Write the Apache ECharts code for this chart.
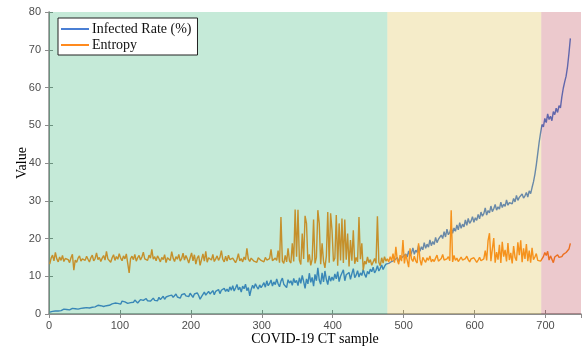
<!DOCTYPE html>
<html>
<head>
<meta charset="utf-8">
<script src="https://cdn.jsdelivr.net/npm/echarts@6/dist/echarts.min.js"></script>
<style>
  html, body { margin: 0; padding: 0; background: #fff; }
  #chart { width: 583px; height: 348px; }
</style>
</head>
<body>
<div id="chart"></div>
<script>
// sample numbers run 1, 3, 5 ... (every second CT sample)
const firstSample = 1;
const sampleStep = 2;

const infectedRate = [
  0.5,0.6,0.7,0.6,0.8,0.9,0.8,1.0,0.9,1.1,1.3,1.0,1.2,1.4,1.1,1.3,1.5,1.9,1.4,1.6,1.3,1.7,1.5,1.8,1.6,
  1.9,1.7,2.0,1.6,2.1,1.8,2.2,1.9,2.0,2.3,1.8,2.2,2.4,2.0,2.5,2.2,2.6,2.3,2.1,2.7,2.4,2.9,2.5,2.8,3.1,
  2.6,3.4,2.9,3.2,3.6,2.8,3.3,3.0,3.5,3.1,3.7,3.2,2.9,3.4,3.8,3.3,3.6,3.1,4.1,3.5,3.9,3.4,3.7,4.2,3.6,
  4.0,3.5,4.4,3.8,4.2,4.7,3.9,4.5,4.1,4.8,4.3,5.0,4.4,4.7,5.3,4.5,4.9,4.2,5.1,4.6,5.4,4.8,5.2,4.6,5.5,
  5.0,4.4,5.3,4.8,5.6,4.9,3.9,4.6,5.2,5.8,5.0,5.5,6.0,5.3,5.7,6.2,5.1,6.0,5.6,6.5,5.4,6.3,5.8,6.8,6.0,
  6.6,5.9,7.2,6.3,7.5,6.1,6.9,7.8,6.4,7.1,5.8,7.4,6.7,7.9,6.2,7.0,4.8,6.5,7.6,6.8,8.0,7.2,6.6,7.7,7.0,
  7.6,8.3,7.1,8.8,7.5,8.1,9.0,7.4,8.5,7.8,9.3,8.0,7.2,8.7,9.5,7.9,8.4,7.0,9.1,8.2,8.8,7.6,9.4,8.3,8.9,
  7.5,9.6,8.1,10.2,8.6,6.8,9.3,8.0,10.8,8.4,9.7,7.4,10.5,8.8,12.2,9.0,7.9,10.9,8.5,11.4,9.2,7.8,10.1,8.7,9.8,
  8.9,10.6,9.3,11.2,8.6,10.0,9.5,11.7,8.8,10.4,9.9,11.0,9.2,10.7,12.0,9.6,10.3,11.5,9.8,10.9,10.2,11.8,10.5,9.7,11.3,
  10.6,11.9,11.2,12.4,10.9,11.6,12.8,11.4,12.1,13.0,11.8,12.6,13.2,12.9,
  13.4,13.1,13.9,13.5,14.2,13.7,15.0,13.9,14.6,14.3,15.2,
  14.8,15.9,15.1,16.7,15.4,16.2,17.5,15.8,16.9,16.3,18.2,16.6,17.8,17.0,18.9,17.4,18.5,17.7,19.6,18.1,19.2,18.4,20.3,18.9,19.8,
  19.3,20.9,20.0,21.8,20.4,22.5,21.0,21.6,23.0,21.4,22.8,21.9,23.6,22.3,24.2,22.7,23.8,23.1,24.9,23.5,25.3,24.0,24.6,25.8,24.3,
  25.5,24.8,26.4,25.2,27.0,25.9,26.6,28.1,26.2,27.4,26.8,28.6,27.1,27.9,29.0,27.5,28.4,27.8,29.6,28.2,29.1,28.5,30.2,28.8,29.5,
  29.9,29.2,30.6,29.7,31.4,30.1,30.9,30.4,31.8,30.7,31.3,32.2,31.0,32.6,31.9,
  33.5,35.0,37.0,39.5,42.5,45.5,48.0,50.2,
  49.6,51.8,50.7,53.0,51.5,52.4,51.2,53.6,52.8,54.5,53.4,55.2,54.6,
  57.5,59.8,61.5,63.0,65.5,69.0,73.0
];

const entropy = [
  13.2,14.8,15.6,14.1,16.3,14.6,13.8,15.1,14.2,15.5,13.9,14.7,15.2,14.4,13.6,14.9,15.8,11.6,14.3,13.7,14.8,15.4,14.0,14.6,15.0,
  14.2,15.3,14.5,13.8,14.9,15.6,14.1,14.7,16.2,14.4,15.0,13.9,14.8,15.5,14.3,16.6,14.6,15.1,13.7,14.9,15.7,14.2,15.2,14.5,16.0,
  14.8,14.1,15.4,14.6,15.9,13.4,10.9,14.7,15.3,14.4,15.8,14.0,14.9,15.5,14.3,15.1,16.4,14.6,15.0,14.2,15.6,14.8,17.1,14.5,15.2,
  14.1,15.4,14.7,13.8,15.0,14.4,15.7,13.6,14.9,15.3,14.2,16.5,14.8,13.9,15.2,14.5,15.8,14.0,14.7,16.1,14.3,15.5,14.6,13.5,14.9,
  16.2,14.1,15.7,13.2,14.8,15.5,12.9,14.4,15.9,14.0,16.6,13.7,14.9,15.2,14.3,15.8,13.9,14.6,15.4,14.2,15.0,16.8,14.5,13.8,15.3,
  14.0,15.6,14.4,13.9,14.8,15.2,13.6,14.5,16.0,14.1,14.7,13.8,15.1,14.3,17.4,14.6,13.9,14.8,15.3,14.0,14.5,13.7,14.9,15.4,14.2,
  14.6,13.8,15.0,14.3,13.9,14.7,17.1,14.1,13.6,14.8,
  14.2,16.8,13.6,25.7,14.0,13.4,15.5,13.8,17.4,14.1,13.5,18.7,13.9,27.7,15.2,27.6,14.3,13.1,21.3,14.6,
  26.0,24.0,13.7,15.8,12.9,14.5,25.0,13.4,15.0,27.5,24.0,13.2,18.7,14.0,12.2,15.3,27.0,13.6,26.7,22.2,
  13.9,14.8,26.2,12.8,24.0,14.2,25.3,13.5,25.0,14.4,21.3,12.6,19.6,14.1,22.2,13.3,15.0,13.8,25.7,14.5,
  18.7,11.6,14.0,13.2,15.1,13.6,14.4,12.9,13.8,14.7,13.4,25.9,13.7,12.8,14.9,13.5,15.2,14.0,
  14.6,13.8,15.2,14.1,16.0,13.6,17.8,14.3,13.2,15.6,14.0,19.6,13.4,15.8,14.2,12.4,17.4,14.6,13.9,15.3,
  14.1,13.5,18.7,14.4,12.9,15.0,14.3,13.7,14.9,14.2,15.4,13.8,14.5,13.9,14.8,15.6,14.0,13.5,14.7,15.8,
  14.3,13.9,14.6,15.2,14.1,27.5,13.8,15.5,14.2,14.8,13.9,14.5,15.1,14.3,14.0,14.7,15.3,14.4,13.8,14.6,
  14.2,14.9,14.5,13.7,14.3,15.0,14.1,13.9,14.6,16.8,14.2,19.5,21.4,14.0,17.2,20.1,13.6,16.4,14.4,18.3,
  13.5,19.1,15.2,17.0,13.9,18.8,14.3,16.2,13.4,18.0,15.0,14.1,19.0,15.6,19.5,13.7,17.4,14.6,18.5,14.0,
  16.8,13.6,17.5,14.4,15.1,16.0,14.2,13.8,14.0,
  14.1,15.2,16.3,15.5,16.6,14.3,15.4,15.8,13.6,15.1,14.6,15.7,15.0,15.4,15.2,15.8,16.0,16.3,16.5,17.2,18.7
];

// shaded bands over the plot: [from, to]
const bandEdges = [[0, 477], [477, 694], [694, 750]];
const bandColors = ['rgb(4,165,87)', 'rgb(211,172,20)', 'rgb(172,20,37)'];

const xTicks = { min: 0, max: 750, interval: 100 };
const yTicks = { min: 0, max: 80, interval: 10 };

const toPairs = (values) => values.map((v, i) => [firstSample + i * sampleStep, v]);

const chart = echarts.init(document.getElementById('chart'));

const axisGray = '#8c8c8c';
const tickLabel = { color: '#4d4d4d', fontSize: 11, fontFamily: 'Liberation Sans' };

const option = {
  animation: false,
  backgroundColor: '#fff',
  grid: { left: 49, right: 2, top: 12, bottom: 34, outerBoundsMode: 'none', containLabel: false },
  legend: {
    data: ['Infected Rate (%)', 'Entropy'],
    orient: 'vertical',
    left: 58,
    top: 18,
    z: 20,
    padding: [4, 6, 3, 3],
    itemGap: 2,
    itemWidth: 28,
    itemHeight: 2,
    icon: 'rect',
    backgroundColor: '#fff',
    borderColor: '#222',
    borderWidth: 1,
    borderRadius: 0,
    textStyle: { fontFamily: 'Liberation Serif', fontSize: 14, color: '#111', padding: [0, 0, 0, -2] }
  },
  xAxis: [
    {
      type: 'value',
      min: xTicks.min, max: xTicks.max, interval: xTicks.interval,
      name: 'COVID-19 CT sample',
      nameLocation: 'middle',
      nameGap: 18,
      nameMoveOverlap: false,
      nameTextStyle: { fontFamily: 'Liberation Serif', fontSize: 14, color: '#000' },
      axisLine: { lineStyle: { color: axisGray, width: 1.5 } },
      axisTick: { inside: true, length: 4, lineStyle: { color: axisGray } },
      axisLabel: { ...tickLabel, margin: 6, showMaxLabel: false },
      splitLine: { show: false }
    },
    {
      type: 'value', position: 'top',
      min: xTicks.min, max: xTicks.max, interval: xTicks.interval,
      axisLine: { show: true, lineStyle: { color: axisGray, width: 1 } },
      axisTick: { inside: true, length: 4, lineStyle: { color: axisGray } },
      axisLabel: { show: false },
      splitLine: { show: false }
    }
  ],
  yAxis: [
    {
      type: 'value',
      min: yTicks.min, max: yTicks.max, interval: yTicks.interval,
      name: 'Value',
      nameLocation: 'middle',
      nameGap: 20,
      nameMoveOverlap: false,
      nameTextStyle: { fontFamily: 'Liberation Serif', fontSize: 14, color: '#000' },
      axisLine: { show: true, lineStyle: { color: axisGray, width: 1.5 } },
      axisTick: { show: true, inside: true, length: 4, lineStyle: { color: axisGray } },
      axisLabel: { ...tickLabel, margin: 8 },
      splitLine: { show: false }
    },
    {
      type: 'value', position: 'right',
      min: yTicks.min, max: yTicks.max, interval: yTicks.interval,
      axisLine: { show: true, lineStyle: { color: axisGray, width: 1 } },
      axisTick: { show: true, inside: true, length: 4, lineStyle: { color: axisGray } },
      axisLabel: { show: false },
      splitLine: { show: false }
    }
  ],
  series: [
    {
      name: 'Infected Rate (%)',
      type: 'line',
      z: 2,
      showSymbol: false,
      color: '#4a7fd4',
      lineStyle: { width: 1.4 },
      data: toPairs(infectedRate)
    },
    {
      name: 'Entropy',
      type: 'line',
      z: 2,
      showSymbol: false,
      color: '#ff8a1e',
      lineStyle: { width: 1.4 },
      data: toPairs(entropy)
    },
    {
      name: 'bands',
      type: 'line',
      z: 10,
      data: [],
      silent: true,
      markArea: {
        silent: true,
        z: 10,
        data: bandEdges.map((b, i) => [
          { xAxis: b[0], itemStyle: { color: bandColors[i], opacity: 0.23 } },
          { xAxis: b[1] }
        ])
      }
    }
  ]
};

chart.setOption(option);
</script>
</body>
</html>
